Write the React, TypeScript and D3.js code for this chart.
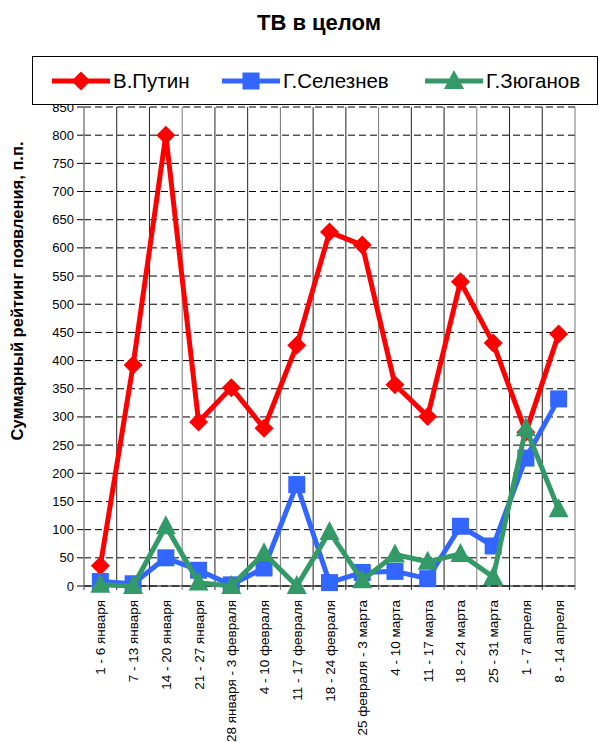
import React from "react";
import { scaleBand, scaleLinear, line, range } from "d3";

const weeks = [
  "1 - 6 января",
  "7 - 13 января",
  "14 - 20 января",
  "21 - 27 января",
  "28 января - 3 февраля",
  "4 - 10 февраля",
  "11 - 17 февраля",
  "18 - 24 февраля",
  "25 февраля - 3 марта",
  "4 - 10 марта",
  "11 - 17 марта",
  "18 - 24 марта",
  "25 - 31 марта",
  "1 - 7 апреля",
  "8 - 14 апреля"
];

const putin = [36, 392, 800, 291, 352, 280, 427, 628, 605, 357, 301, 540, 431, 273, 447];
const seleznev = [8, 4, 50, 28, 2, 32, 180, 6, 24, 26, 13, 106, 71, 227, 332];
const zyuganov = [2, 0, 106, 6, 0, 58, 0, 96, 10, 56, 43, 57, 16, 280, 136];

const yTicks = range(0, 851, 50);

const series = [
  { name: "В.Путин", values: putin, color: "#ff0000", marker: "diamond" },
  { name: "Г.Селезнев", values: seleznev, color: "#3366ff", marker: "square" },
  { name: "Г.Зюганов", values: zyuganov, color: "#339966", marker: "triangle" }
];

// legend line start for each entry
const legendX = [52, 222, 425];

function Marker({ kind, x, y, color }: { kind: string; x: number; y: number; color: string }) {
  if (kind === "diamond") {
    const s = 9.5;
    return <path d={`M${x},${y - s}L${x + s},${y}L${x},${y + s}L${x - s},${y}Z`} fill={color} />;
  }
  if (kind === "square") {
    const s = 8.5;
    return <rect x={x - s} y={y - s} width={2 * s} height={2 * s} fill={color} />;
  }
  return <path d={`M${x},${y - 11}L${x + 10},${y + 8}L${x - 10},${y + 8}Z`} fill={color} />;
}

export default function App() {
  const left = 84;
  const right = 575;
  const top = 107;
  const bottom = 586;

  const x = scaleBand().domain(weeks).range([left, right]).padding(0);
  const y = scaleLinear().domain([0, 850]).range([bottom, top]);
  const cx = (w: string) => x(w)! + x.bandwidth() / 2;

  const path = line<number>()
    .x((_, i) => cx(weeks[i]))
    .y((d) => y(d));

  const font = "'Liberation Sans', Arial, sans-serif";

  return (
    <svg width={601} height={742} style={{ position: "absolute", left: 0, top: 0 }} fontFamily={font}>
      <rect width={601} height={742} fill="#fff" />
      <text x={319} y={30} textAnchor="middle" fontSize={22} fontWeight="bold">
        ТВ в целом
      </text>

      {/* horizontal dashed grid */}
      {yTicks.map((t) => (
        <g key={t}>
          <line x1={left} x2={right} y1={y(t)} y2={y(t)} stroke="#000" strokeDasharray="7,4" strokeWidth={1} />
          <line x1={left - 7} x2={left} y1={y(t)} y2={y(t)} stroke="#000" />
          <text x={left - 10} y={y(t) + 4.5} textAnchor="end" fontSize={13}>
            {t}
          </text>
        </g>
      ))}

      {/* vertical grid */}
      {weeks.map((w, i) => (
        <line
          key={w}
          x1={x(w)! + x.bandwidth()}
          x2={x(w)! + x.bandwidth()}
          y1={top}
          y2={bottom + 4}
          stroke={i % 3 === 2 ? "#777" : "#222"}
        />
      ))}

      <line x1={left} x2={left} y1={top} y2={bottom + 4} stroke="#808080" strokeWidth={1.5} />
      <line x1={left} x2={right} y1={bottom} y2={bottom} stroke="#000" />

      {/* x labels */}
      {weeks.map((w) => (
        <text
          key={w}
          transform={`translate(${cx(w) + 5},${600}) rotate(-90)`}
          textAnchor="end"
          fontSize={13.5}
        >
          {w}
        </text>
      ))}

      <text
        transform={`translate(23,${291}) rotate(-90)`}
        textAnchor="middle"
        fontSize={16.5}
        fontWeight="bold"
      >
        Суммарный рейтинг появления, п.п.
      </text>

      {series.map((s) => (
        <g key={s.name}>
          <path d={path(s.values) ?? ""} fill="none" stroke={s.color} strokeWidth={5} strokeLinejoin="round" />
          {s.values.map((v, i) => (
            <Marker key={i} kind={s.marker} x={cx(weeks[i])} y={y(v)} color={s.color} />
          ))}
        </g>
      ))}

      {/* legend */}
      <rect x={32.5} y={56.5} width={565} height={48} fill="#fff" stroke="#000" />
      {series.map((s, i) => {
        const lx = legendX[i];
        return (
          <g key={s.name}>
            <line x1={lx} x2={lx + 58} y1={81} y2={81} stroke={s.color} strokeWidth={5} />
            <Marker kind={s.marker} x={lx + 29} y={81} color={s.color} />
            <text x={lx + 61} y={88} fontSize={20.5}>
              {s.name}
            </text>
          </g>
        );
      })}
    </svg>
  );
}
